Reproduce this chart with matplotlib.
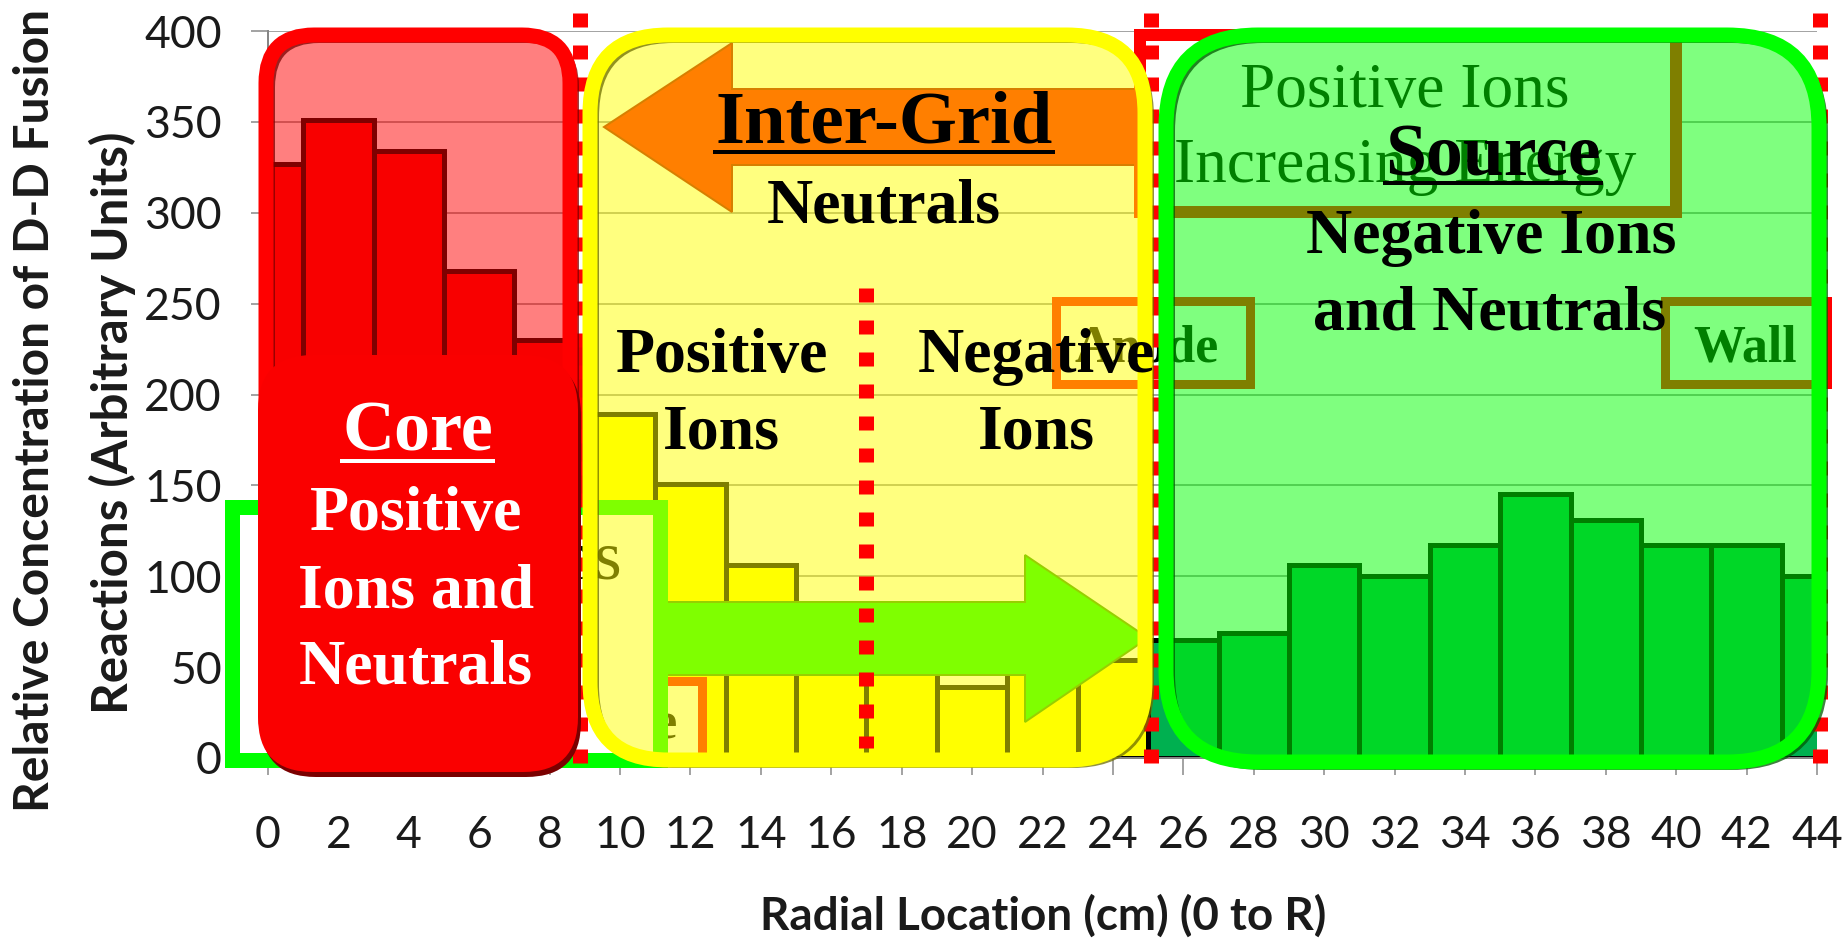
import matplotlib
matplotlib.use("Agg")
import matplotlib.pyplot as plt
from matplotlib.patches import FancyBboxPatch, Polygon
from matplotlib.lines import Line2D

# ---------------- data ----------------
radial_labels = ['0', '2', '4', '6', '8', '10', '12', '14', '16', '18', '20',
                 '22', '24', '26', '28', '30', '32', '34', '36', '38', '40', '42', '44']
core_counts = [327, 351, 334, 268, 230]
intergrid_counts = [189, 151, 106, 78, 58, 39, 50, 54]
source_counts = [65, 69, 106, 100, 117, 145, 131, 117, 117, 100]
y_ticks = [0, 50, 100, 150, 200, 250, 300, 350, 400]

plt.rcParams['font.family'] = ['Lato', 'DejaVu Sans']
SERIF = ['Liberation Serif', 'DejaVu Serif']

W, H, DPI = 1843, 941, 100
PT = 72.0 / DPI   # points per pixel

fig = plt.figure(figsize=(W / DPI, H / DPI), dpi=DPI)
fig.patch.set_facecolor('white')

AX_L, AX_R, AX_T, AX_B = 268, 1817, 31, 758
ax = fig.add_axes([AX_L / W, 1 - AX_B / H, (AX_R - AX_L) / W, (AX_B - AX_T) / H])

n_core, n_ig, n_src = len(core_counts), len(intergrid_counts), len(source_counts)
pos = list(range(n_core + n_ig + n_src))
bar_kw = dict(width=1.0, edgecolor='black', linewidth=5 * PT, align='center')
ax.bar(pos[:n_core], core_counts, color='#F20000', **bar_kw)
ax.bar(pos[n_core:n_core + n_ig], intergrid_counts, color='#FFFF00', **bar_kw)
ax.bar(pos[n_core + n_ig:], source_counts, color='#00B050', **bar_kw)

ax.set_xlim(0, len(radial_labels) - 1)
ax.set_ylim(0, 400)
ax.set_xticks(range(len(radial_labels)))
ax.set_xticklabels(radial_labels)
ax.set_yticks(y_ticks)
ax.yaxis.grid(True, color='#868686', linewidth=1.5 * PT)
ax.set_axisbelow(True)
for s in ['top', 'right']:
    ax.spines[s].set_visible(False)
for s in ['left', 'bottom']:
    ax.spines[s].set_color('#868686')
    ax.spines[s].set_linewidth(2 * PT)
ax.tick_params(axis='both', direction='out', length=17 * PT, width=1.5 * PT,
               color='#868686', labelsize=32, labelcolor='#1a1a1a')
ax.tick_params(axis='y', pad=21)
ax.tick_params(axis='x', pad=29)

# ---------------- overlay in pixel coordinates ----------------
ov = fig.add_axes([0, 0, 1, 1])
ov.set_xlim(0, W)
ov.set_ylim(H, 0)
ov.axis('off')
renderer = fig.canvas.get_renderer()


def fitted_size(s, width, **kw):
    t = ov.text(0, 0, s, fontsize=50, **kw)
    w = t.get_window_extent(renderer).width
    t.remove()
    return 50.0 * width / w


def rbox(x0, y0, x1, y1, r, **kw):
    p = FancyBboxPatch((x0, y0), x1 - x0, y1 - y0,
                       boxstyle="round,pad=0,rounding_size=%g" % r, **kw)
    ov.add_patch(p)
    return p


def sbox(x0, y0, x1, y1, **kw):
    p = FancyBboxPatch((x0, y0), x1 - x0, y1 - y0, boxstyle="square,pad=0", **kw)
    ov.add_patch(p)
    return p


def dotted(x, y0, y1, z):
    ov.add_line(Line2D([x, x], [y0, y1], color='#FF0000', lw=15 * PT,
                       ls=(0, (14 / 15, 18 / 15)), dash_capstyle='butt', zorder=z))


# --- underlying annotations (later tinted by the translucent region boxes) ---
# left-pointing arrow (red, appears orange under yellow)
ov.add_patch(Polygon([(604, 127), (732, 43), (732, 89), (1143, 89), (1143, 165),
                      (732, 165), (732, 212)], closed=True, facecolor='#FF0000',
                     edgecolor='#B00000', lw=2 * PT, zorder=1))
# right-pointing arrow (green, appears chartreuse under yellow)
ov.add_patch(Polygon([(640, 602), (1025, 602), (1025, 555), (1148, 638), (1025, 722),
                      (1025, 675), (640, 675)], closed=True, facecolor='#00FF00',
                     edgecolor='#30A000', lw=2 * PT, zorder=1))

lab_bold = fitted_size('Wall', 1797 - 1693, family=SERIF, weight='bold')
lab_reg = fitted_size('Increasing Energy', 1636 - 1174, family=SERIF)

# Cathode box
sbox(450, 681, 702, 762, facecolor='white', edgecolor='#FF0000', lw=9 * PT, zorder=2)
ov.text(678, 737, 'Cathode', ha='right', va='baseline', family=SERIF, weight='bold',
        fontsize=lab_bold, color='black', zorder=2.2)
# green bordered box (lower left)
sbox(232, 507, 660, 760, facecolor='white', edgecolor='#00FF00', lw=15 * PT, zorder=2.5)
ov.text(622, 579, 'Positive Ions', ha='right', va='baseline', family=SERIF,
        fontsize=lab_reg * 1.1, color='black', zorder=2.6)
# Anode box
sbox(1056, 301, 1250, 384, facecolor='white', edgecolor='#FF0000', lw=9 * PT, zorder=2)
ov.text(1147, 362, 'Anode', ha='center', va='baseline', family=SERIF, weight='bold',
        fontsize=lab_bold, color='black', zorder=2.2)
# Wall box
sbox(1665, 301, 1827, 384, facecolor='white', edgecolor='#FF0000', lw=9 * PT, zorder=2)
ov.text(1745, 362, 'Wall', ha='center', va='baseline', family=SERIF, weight='bold',
        fontsize=lab_bold, color='black', zorder=2.2)
# Positive ions / increasing energy box
sbox(1140, 35, 1676, 212, facecolor='white', edgecolor='#FF0000', lw=12 * PT, zorder=2)
ov.text(1405, 107, 'Positive Ions', ha='center', va='baseline', family=SERIF,
        fontsize=lab_reg, color='black', zorder=2.2)
ov.text(1405, 182, 'Increasing Energy', ha='center', va='baseline', family=SERIF,
        fontsize=lab_reg, color='black', zorder=2.2)

# --- translucent region boxes ---
regions = [
    # x0, y0, x1, y1 (border centre line), radius, colour, shadow colour
    (266, 35, 570, 764, 48, '#FF0000', '#7A0000'),
    (590, 35, 1145, 760, 78, '#FFFF00', '#6E6E00'),
    (1166, 35, 1819, 762, 92, '#00FF00', '#005A00'),
]
for x0, y0, x1, y1, r, c, sc in regions:
    rbox(x0, y0, x1, y1, r, facecolor=c, alpha=0.5, edgecolor='none', zorder=4)
    rbox(x0 + 5, y0 + 4, x1 + 5, y1 + 4, r, facecolor='none', edgecolor=sc,
         lw=8 * PT, alpha=0.75, zorder=5.5)
    rbox(x0, y0, x1, y1, r, facecolor='none', edgecolor=c, lw=15 * PT, zorder=6)

# red dotted boundaries
dotted(580, 13, 763, 5)
dotted(1151, 13, 763, 5)
dotted(1820, 13, 763, 5)
dotted(866, 288, 748, 8)

# solid core label box
rbox(261, 360, 581, 777, 55, facecolor='#7A0000', edgecolor='none', zorder=6.8)
rbox(258, 355, 578, 772, 55, facecolor='#FA0000', edgecolor='none', zorder=7)

# --- region texts ---
sz_body = fitted_size('Positive', 829 - 616, family=SERIF, weight='bold')
sz_core = fitted_size('Core', 493 - 342, family=SERIF, weight='bold')
sz_inter = fitted_size('Inter-Grid', 1053 - 715, family=SERIF, weight='bold')
sz_source = fitted_size('Source', 1601 - 1385, family=SERIF, weight='bold')


def label(x, y, s, size, color='black'):
    ov.text(x, y, s, ha='center', va='baseline', family=SERIF, weight='bold',
            fontsize=size, color=color, zorder=9)


label(884, 142, 'Inter-Grid', sz_inter)
ov.plot([715, 1053], [152, 152], color='black', lw=4 * PT, zorder=9)
label(884, 222, 'Neutrals', sz_body)
label(722, 372, 'Positive', sz_body)
label(721, 448, 'Ions', sz_body)
label(1036, 372, 'Negative', sz_body)
label(1036, 448, 'Ions', sz_body)

label(418, 450, 'Core', sz_core, 'white')
ov.plot([342, 493], [461, 461], color='white', lw=4 * PT, zorder=9)
label(416, 530, 'Positive', sz_body, 'white')
label(416, 607, 'Ions and', sz_body, 'white')
label(416, 683, 'Neutrals', sz_body, 'white')

label(1493, 175, 'Source', sz_source)
ov.plot([1385, 1601], [183, 183], color='black', lw=4 * PT, zorder=9)
label(1491, 253, 'Negative Ions', sz_body)
label(1490, 330, 'and Neutrals', sz_body)

# --- axis titles ---
xt = 'Radial Location (cm) (0 to R)'
ov.text(1043, 930, xt, ha='center', va='baseline', weight='bold', color='#1a1a1a',
        fontsize=fitted_size(xt, 567, weight='bold'), zorder=9)
yt1 = 'Relative Concentration of D-D Fusion'
yt2 = 'Reactions (Arbitrary Units)'
ov.text(35, 410, yt1, ha='center', va='center', rotation=90, weight='bold', color='#1a1a1a',
        fontsize=fitted_size(yt1, 805, weight='bold'), zorder=9)
ov.text(112, 423, yt2, ha='center', va='center', rotation=90, weight='bold', color='#1a1a1a',
        fontsize=fitted_size(yt2, 583, weight='bold'), zorder=9)

fig.savefig('out.png', dpi=DPI, facecolor='white')
